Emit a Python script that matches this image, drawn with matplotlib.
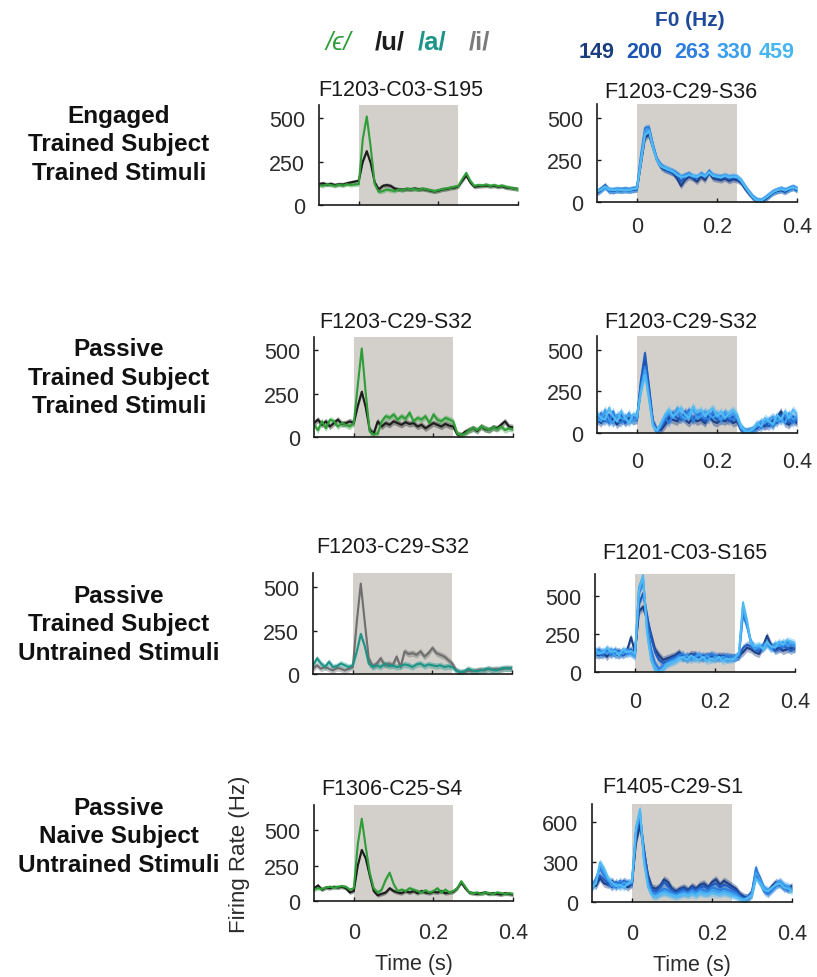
import numpy as np
import matplotlib
matplotlib.use('Agg')
import matplotlib.pyplot as plt

plt.rcParams['font.family'] = ['Liberation Sans', 'DejaVu Sans']

# PSTH time bins (s), 10 ms wide
t = np.round(np.arange(-0.10, 0.405, 0.01), 2)

# --- Engaged, trained subject, trained stimuli ---
eng_eps = [115, 110, 120, 115, 110, 118, 112, 120, 115, 118,
           120, 380, 510, 330, 120, 75, 80, 90, 85, 80,
           90, 85, 95, 90, 92, 88, 95, 90, 85, 80,
           85, 92, 95, 100, 105, 110, 150, 185, 140, 110,
           115, 112, 118, 110, 115, 108, 112, 105, 100, 95,
           90]
eng_u = [120, 125, 118, 122, 115, 120, 118, 125, 130, 135,
         140, 250, 310, 240, 130, 90, 110, 115, 110, 95,
         90, 88, 92, 90, 95, 90, 92, 88, 82, 78,
         82, 90, 92, 98, 100, 108, 140, 170, 130, 105,
         108, 110, 112, 108, 110, 105, 108, 100, 98, 95,
         92]
eng_f149 = [55, 70, 95, 70, 65, 72, 68, 75, 70, 72,
            75, 230, 380, 400, 320, 250, 205, 190, 185, 170,
            140, 95, 130, 150, 140, 120, 150, 130, 175, 140,
            135, 130, 140, 125, 135, 130, 115, 80, 50, 25,
            10, 5, 15, 35, 55, 65, 70, 60, 75, 85,
            70]
eng_f200 = [55, 75, 100, 65, 70, 75, 70, 72, 68, 75,
            80, 260, 410, 430, 330, 245, 210, 195, 180, 175,
            155, 120, 150, 160, 145, 140, 165, 145, 180, 150,
            145, 140, 150, 135, 145, 140, 120, 85, 55, 25,
            8, 5, 20, 40, 60, 68, 75, 65, 80, 90,
            75]
eng_f263 = [60, 80, 90, 72, 68, 70, 72, 78, 72, 80,
            85, 280, 440, 445, 340, 255, 220, 200, 190, 185,
            170, 150, 160, 170, 150, 145, 170, 150, 185, 155,
            150, 150, 155, 145, 150, 145, 125, 90, 60, 30,
            10, 8, 25, 45, 62, 70, 78, 70, 80, 88,
            78]
eng_f330 = [65, 75, 88, 68, 72, 76, 74, 70, 75, 78,
            82, 250, 420, 430, 335, 250, 215, 205, 195, 180,
            165, 145, 155, 165, 150, 150, 160, 155, 180, 160,
            155, 150, 160, 150, 155, 150, 130, 95, 60, 30,
            12, 10, 25, 40, 58, 72, 80, 72, 78, 85,
            80]
eng_f459 = [62, 72, 92, 75, 70, 74, 70, 73, 70, 76,
            80, 240, 400, 420, 320, 245, 210, 200, 190, 180,
            160, 150, 150, 160, 155, 148, 165, 150, 175, 155,
            150, 145, 155, 145, 150, 148, 128, 92, 58, 28,
            10, 8, 22, 42, 60, 70, 76, 68, 80, 88,
            76]

# --- Passive, trained subject, trained stimuli ---
pas_eps = [70, 40, 90, 50, 100, 90, 60, 80, 70, 60,
           80, 300, 510, 250, 30, 15, 20, 90, 120, 110,
           130, 100, 120, 105, 140, 90, 110, 100, 120, 80,
           130, 100, 90, 110, 100, 90, 20, 10, 20, 40,
           50, 40, 60, 50, 40, 55, 45, 60, 40, 50,
           45]
pas_u = [80, 100, 70, 90, 60, 80, 100, 75, 80, 90,
         80, 180, 260, 170, 40, 20, 90, 60, 80, 70,
         90, 80, 70, 85, 75, 80, 60, 70, 50, 65,
         80, 70, 60, 75, 65, 60, 15, 10, 30, 40,
         50, 35, 60, 45, 40, 55, 50, 70, 90, 60,
         55]
pas_f149 = [80, 60, 100, 70, 90, 50, 80, 70, 90, 75,
            80, 300, 440, 250, 60, 15, 20, 50, 90, 80,
            70, 100, 80, 60, 90, 70, 80, 60, 110, 70,
            60, 80, 70, 90, 60, 70, 20, 5, 5, 15,
            30, 50, 40, 70, 50, 90, 130, 60, 50, 80,
            60]
pas_f200 = [100, 80, 70, 110, 60, 90, 120, 60, 80, 100,
            90, 320, 480, 280, 70, 10, 30, 70, 100, 120,
            90, 80, 130, 100, 80, 120, 90, 70, 100, 110,
            80, 100, 90, 70, 100, 80, 30, 5, 10, 20,
            40, 60, 50, 40, 80, 60, 110, 90, 60, 100,
            70]
pas_f263 = [60, 120, 90, 60, 130, 70, 60, 100, 70, 90,
            100, 280, 400, 230, 60, 5, 40, 90, 60, 110,
            130, 90, 100, 140, 70, 100, 120, 90, 80, 130,
            100, 70, 110, 90, 80, 100, 25, 5, 15, 10,
            50, 30, 70, 60, 40, 90, 70, 110, 80, 60,
            90]
pas_f330 = [90, 70, 140, 80, 60, 110, 90, 80, 120, 70,
            85, 260, 380, 220, 50, 10, 50, 100, 120, 90,
            150, 110, 80, 120, 140, 90, 100, 130, 110, 90,
            120, 80, 130, 100, 120, 90, 30, 10, 5, 20,
            40, 70, 60, 80, 100, 70, 90, 60, 120, 80,
            100]
pas_f459 = [120, 90, 80, 150, 100, 70, 130, 90, 60, 110,
            100, 250, 350, 200, 40, 15, 60, 110, 140, 100,
            120, 150, 110, 90, 160, 120, 140, 100, 130, 150,
            100, 130, 90, 120, 140, 110, 40, 10, 10, 25,
            60, 40, 90, 70, 50, 110, 80, 130, 90, 140,
            110]

# --- Passive, trained subject, untrained stimuli ---
unt_a = [50, 90, 60, 40, 70, 40, 45, 60, 50, 40,
         50, 130, 230, 160, 60, 40, 50, 40, 60, 45,
         50, 40, 45, 55, 50, 40, 55, 60, 45, 55,
         50, 45, 50, 40, 45, 40, 20, 10, 15, 30,
         20, 15, 20, 25, 30, 25, 20, 30, 35, 30,
         35]
unt_i = [30, 50, 30, 40, 30, 20, 35, 30, 20, 30,
         40, 300, 520, 300, 90, 45, 60, 90, 50, 60,
         50, 100, 40, 130, 115, 120, 110, 130, 100, 120,
         150, 120, 110, 100, 80, 60, 20, 10, 10, 20,
         15, 20, 25, 20, 30, 25, 30, 25, 30, 35,
         30]
unt_f149 = [120, 110, 130, 100, 140, 120, 110, 130, 140, 230,
            130, 400, 430, 350, 250, 150, 110, 80, 90, 100,
            110, 130, 100, 90, 120, 110, 100, 90, 110, 100,
            90, 110, 100, 90, 100, 95, 110, 130, 160, 150,
            130, 120, 170, 240, 180, 150, 160, 140, 150, 160,
            150]
unt_f200 = [140, 120, 110, 150, 120, 130, 140, 110, 130, 150,
            120, 450, 520, 380, 230, 130, 80, 60, 70, 90,
            100, 120, 90, 110, 100, 120, 90, 110, 100, 110,
            100, 90, 110, 100, 90, 100, 100, 160, 180, 170,
            150, 140, 160, 190, 170, 140, 150, 170, 160, 140,
            160]
unt_f263 = [130, 150, 120, 140, 110, 150, 120, 140, 120, 130,
            110, 520, 600, 320, 150, 60, 20, 40, 60, 80,
            90, 110, 120, 80, 100, 90, 110, 100, 90, 120,
            110, 100, 90, 110, 100, 90, 110, 380, 300, 200,
            160, 150, 180, 200, 160, 170, 190, 160, 200, 170,
            180]
unt_f330 = [110, 130, 140, 120, 150, 110, 130, 120, 150, 120,
            100, 560, 630, 280, 100, 20, 0, 30, 60, 70,
            80, 100, 90, 110, 80, 100, 120, 90, 110, 80,
            100, 90, 100, 80, 90, 100, 120, 430, 320, 180,
            150, 170, 160, 180, 150, 190, 170, 200, 180, 190,
            170]
unt_f459 = [150, 120, 130, 160, 130, 140, 110, 150, 130, 140,
            120, 540, 640, 260, 80, 10, 0, 20, 50, 60,
            70, 90, 100, 80, 110, 90, 80, 100, 70, 90,
            80, 100, 70, 90, 80, 90, 130, 460, 340, 190,
            170, 180, 150, 200, 170, 160, 200, 180, 210, 200,
            190]

# --- Passive, naive subject, untrained stimuli ---
nai_eps = [80, 90, 85, 95, 100, 95, 100, 105, 100, 80,
           90, 400, 580, 380, 200, 90, 60, 80, 150, 200,
           120, 70, 80, 70, 90, 80, 70, 60, 75, 60,
           70, 90, 60, 80, 60, 70, 90, 140, 100, 60,
           55, 60, 50, 60, 55, 50, 60, 55, 50, 55,
           50]
nai_u = [90, 110, 80, 95, 90, 100, 95, 100, 90, 60,
         70, 250, 360, 300, 180, 70, 40, 50, 60, 90,
         70, 60, 55, 70, 60, 70, 55, 70, 60, 55,
         65, 60, 70, 55, 60, 65, 90, 130, 90, 60,
         55, 50, 55, 60, 50, 55, 50, 45, 55, 50,
         45]
nai_f149 = [150, 120, 180, 140, 130, 160, 120, 140, 130, 110,
            140, 450, 580, 380, 200, 110, 100, 120, 170, 150,
            100, 80, 100, 110, 90, 120, 100, 130, 140, 110,
            150, 170, 130, 160, 140, 120, 100, 60, 40, 30,
            60, 200, 150, 90, 80, 120, 150, 130, 110, 100,
            120]
nai_f200 = [120, 150, 200, 170, 140, 110, 150, 130, 160, 140,
            130, 500, 640, 400, 180, 90, 80, 110, 150, 120,
            90, 70, 90, 100, 80, 110, 90, 110, 120, 100,
            130, 140, 110, 130, 120, 100, 80, 50, 30, 40,
            80, 240, 180, 100, 70, 100, 130, 150, 120, 90,
            110]
nai_f263 = [100, 180, 250, 200, 160, 140, 110, 160, 120, 150,
            140, 520, 660, 350, 150, 70, 60, 80, 100, 90,
            70, 60, 70, 80, 70, 90, 80, 100, 90, 80,
            110, 100, 90, 100, 90, 80, 70, 40, 20, 30,
            70, 260, 150, 80, 60, 90, 120, 140, 100, 110,
            100]
nai_f330 = [130, 160, 280, 230, 170, 120, 140, 110, 150, 130,
            150, 560, 690, 320, 130, 60, 50, 70, 80, 70,
            60, 50, 60, 70, 60, 80, 60, 80, 70, 70,
            90, 80, 70, 80, 70, 60, 50, 30, 20, 35,
            60, 220, 170, 110, 90, 100, 140, 160, 130, 120,
            90]
nai_f459 = [110, 140, 300, 250, 180, 150, 120, 130, 110, 140,
            160, 540, 700, 300, 110, 50, 40, 60, 70, 60,
            50, 40, 50, 60, 50, 60, 50, 70, 60, 60,
            70, 60, 60, 70, 60, 50, 40, 25, 15, 30,
            50, 180, 140, 90, 80, 110, 130, 140, 110, 100,
            80]

row_labels = ['Engaged\nTrained Subject\nTrained Stimuli',
              'Passive\nTrained Subject\nTrained Stimuli',
              'Passive\nTrained Subject\nUntrained Stimuli',
              'Passive\nNaive Subject\nUntrained Stimuli']
unit_names = ['F1203-C03-S195', 'F1203-C29-S36',
              'F1203-C29-S32', 'F1203-C29-S32',
              'F1203-C29-S32', 'F1201-C03-S165',
              'F1306-C25-S4', 'F1405-C29-S1']
f0_values = ['149', '200', '263', '330', '459']
vowels = ['/\u03f5/', '/u/', '/a/', '/i/']

GREEN, BLACK, TEAL, GREY = '#2f9e38', '#1c1c1c', '#1d9488', '#6f6f6f'
VOWEL_COLORS = [GREEN, BLACK, TEAL, '#7a7a7a']
F0_COLORS = ['#1d3f86', '#1f5cbf', '#2c7fdf', '#3d9ef0', '#4fbaf4']
F0_TEXT = ['#1b3d7c', '#1f55b2', '#2f7fe0', '#3c9fec', '#47b5f0']
STIM_SHADE = '#d3d0cb'
TICK_COLOR = '#2b2b2b'

W, H = 817, 978
fig = plt.figure(figsize=(W / 100, H / 100), dpi=100)


def px_axes(left, top, width, height):
    return fig.add_axes([left / W, 1 - (top + height) / H, width / W, height / H])


# axes boxes in pixels: left, top, width, height
boxes = [(319, 106, 199, 100), (597, 105, 200, 98),
         (314, 338, 199, 100), (597, 337, 200, 97),
         (313, 574, 199, 101), (595, 575, 200, 98),
         (314, 806, 199, 96), (592, 805, 200, 98)]
ytops = [576, 581, 576, 582, 581, 648, 677, 738]
yticks = [[0, 250, 500]] * 7 + [[0, 300, 600]]
title_x = [0.41, 0.42, 0.41, 0.42, 0.40, 0.45, 0.39, 0.405]
title_gap = [15, 13, 15, 14, 26, 21, 16, 17]
xtick_pad = [10, 10, 10, 13, 10, 14, 15, 15]

panel_series = [
    ([eng_u, eng_eps], [BLACK, GREEN], 12),
    ([eng_f149, eng_f200, eng_f263, eng_f330, eng_f459], F0_COLORS, 18),
    ([pas_u, pas_eps], [BLACK, GREEN], 18),
    ([pas_f149, pas_f200, pas_f263, pas_f330, pas_f459], F0_COLORS, 25),
    ([unt_i, unt_a], [GREY, TEAL], 18),
    ([unt_f149, unt_f200, unt_f263, unt_f330, unt_f459], F0_COLORS, 25),
    ([nai_u, nai_eps], [BLACK, GREEN], 14),
    ([nai_f149, nai_f200, nai_f263, nai_f330, nai_f459], F0_COLORS, 28),
]

for i, (series, colors, sem) in enumerate(panel_series):
    ax = px_axes(*boxes[i])
    ax.axvspan(0, 0.25, color=STIM_SHADE, lw=0, zorder=0)
    for y, c in zip(series, colors):
        y = np.asarray(y, dtype=float)
        ax.fill_between(t, y - sem, y + sem, color=c, alpha=0.4, lw=0, zorder=1)
        ax.plot(t, y, color=c, lw=1.5, zorder=2)
    ax.set_xlim(-0.1, 0.4)
    ax.set_ylim(0, ytops[i])
    ax.set_xticks([0, 0.2, 0.4])
    ax.set_yticks(yticks[i])
    ax.set_xticklabels(['0', '0.2', '0.4'])
    ax.set_yticklabels([str(v) for v in yticks[i]])
    for side in ['top', 'right']:
        ax.spines[side].set_visible(False)
    for side in ['left', 'bottom']:
        ax.spines[side].set_linewidth(1.2)
        ax.spines[side].set_color('#1a1a1a')
    ax.tick_params(direction='in', length=3, width=1, labelsize=15.5,
                   labelcolor=TICK_COLOR, color='#1a1a1a')
    ax.tick_params(axis='x', pad=xtick_pad[i])
    ax.tick_params(axis='y', pad=10)
    left_col = i % 2 == 0
    if left_col and i < 6:
        ax.tick_params(axis='x', labelbottom=False)
    ax.annotate(unit_names[i], xy=(title_x[i], 1), xycoords='axes fraction',
                xytext=(0, title_gap[i] * 0.72), textcoords='offset points',
                ha='center', va='center', fontsize=15.5, color='#1a1a1a')
    if i >= 6:
        ax.set_xlabel('Time (s)', fontsize=15.5, color=TICK_COLOR, labelpad=7)
    if i == 6:
        ax.set_ylabel('Firing Rate (Hz)', fontsize=16, color=TICK_COLOR, labelpad=10)

# condition labels down the left side
for label, yc in zip(row_labels, [145, 378, 625, 837]):
    fig.text(119 / W, 1 - yc / H, label, ha='center', va='center',
             fontsize=17.5, fontweight='bold', linespacing=1.3, color='#111111')

# vowel key
for txt, c, xc in zip(vowels, VOWEL_COLORS, [338, 390, 432, 479]):
    italic = 'italic' if txt == vowels[0] else 'normal'
    weight = 'normal' if txt == vowels[0] else 'bold'
    fig.text(xc / W, 1 - 43 / H, txt, ha='center', va='center', fontsize=18.5,
             fontweight=weight, fontstyle=italic, color=c)

# F0 key
fig.text(690 / W, 1 - 20 / H, 'F0 (Hz)', ha='center', va='center',
         fontsize=15, fontweight='bold', color='#1e4a9a')
for txt, c, xc in zip(f0_values, F0_TEXT, [597, 644, 692, 734, 777]):
    fig.text(xc / W, 1 - 52 / H, txt, ha='center', va='center',
             fontsize=15.5, fontweight='bold', color=c)

fig.savefig('out.png', dpi=100)
